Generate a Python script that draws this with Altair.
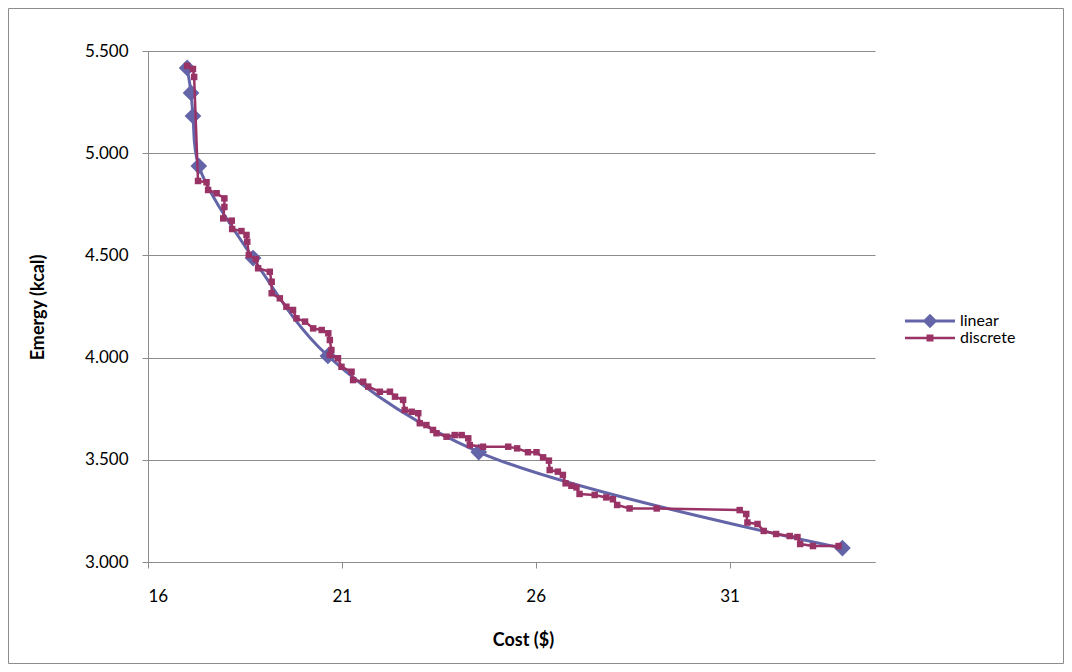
import altair as alt
import pandas as pd

# ---- data ----
lin_x = [17.01, 17.11, 17.16, 17.31, 18.71, 20.64, 24.53, 33.91]
lin_y = [5.417, 5.295, 5.182, 4.937, 4.487, 4.008, 3.538, 3.068]

disc_x = [17.01, 17.16, 17.19, 17.29, 17.51, 17.55, 17.77, 17.97, 17.97, 17.94,
          18.16, 18.17, 18.41, 18.54, 18.56, 18.60, 18.78, 18.84, 19.14, 19.19,
          19.19, 19.40, 19.57, 19.74, 19.83, 20.05, 20.26, 20.48, 20.65, 20.69,
          20.73, 20.69, 20.90, 20.99, 21.25, 21.29, 21.55, 21.68, 21.98, 22.24,
          22.37, 22.58, 22.62, 22.80, 22.97, 23.01, 23.18, 23.35, 23.44, 23.70,
          23.91, 24.09, 24.26, 24.30, 24.64, 25.29, 25.52, 25.80, 26.02, 26.19,
          26.34, 26.36, 26.57, 26.70, 26.77, 26.92, 27.05, 27.13, 27.52, 27.82,
          27.99, 28.10, 28.42, 29.12, 31.26, 31.43, 31.46, 31.72, 31.88, 32.20,
          32.55, 32.75, 32.82, 33.15, 33.81]
disc_y = [5.427, 5.412, 5.373, 4.864, 4.858, 4.820, 4.804, 4.779, 4.737, 4.681,
          4.670, 4.629, 4.619, 4.600, 4.567, 4.502, 4.482, 4.437, 4.420, 4.371,
          4.315, 4.290, 4.249, 4.233, 4.192, 4.176, 4.143, 4.135, 4.119, 4.086,
          4.037, 4.013, 3.997, 3.955, 3.931, 3.890, 3.882, 3.858, 3.833, 3.833,
          3.809, 3.793, 3.744, 3.735, 3.728, 3.679, 3.670, 3.646, 3.630, 3.613,
          3.621, 3.621, 3.605, 3.572, 3.564, 3.564, 3.556, 3.537, 3.537, 3.512,
          3.496, 3.450, 3.442, 3.426, 3.385, 3.373, 3.365, 3.333, 3.328, 3.316,
          3.307, 3.279, 3.262, 3.262, 3.254, 3.235, 3.193, 3.186, 3.152, 3.137,
          3.127, 3.122, 3.088, 3.078, 3.078]

series_names = ["linear", "discrete"]
x_ticks = [16, 21, 26, 31]
y_ticks = [3.0, 3.5, 4.0, 4.5, 5.0, 5.5]

LIN_COLOR = "#6464A8"
DISC_COLOR = "#993366"
GRID = "#8C8C8C"
FONT = "Lato"

lin_df = pd.DataFrame({"x": lin_x, "y": lin_y, "i": range(len(lin_x))})
disc_df = pd.DataFrame({"x": disc_x, "y": disc_y, "i": range(len(disc_x))})
leg_df = pd.DataFrame({"series": series_names, "x": [20, 20], "y": [4, 4]})

PW, PH = 727, 511
PAD = {"left": 140, "top": 43, "right": 189, "bottom": 102}

xscale = alt.Scale(domain=[16, 34.75], nice=False, zero=False)
yscale = alt.Scale(domain=[3.0, 5.5], nice=False, zero=False)

xaxis = alt.Axis(values=x_ticks, title="Cost ($)", grid=False, tickSize=6,
                 labelPadding=20, domainColor=GRID, tickColor=GRID,
                 labelFontSize=17, titleFontSize=18, titleFontWeight="bold",
                 titleX=375, titleY=78, titleBaseline="middle", titleAlign="center",
                 labelColor="#000000", titleColor="#000000", labelFont=FONT, titleFont=FONT)
yaxis = alt.Axis(values=y_ticks, format=".3f", title="Emergy (kcal)", grid=True,
                 gridColor=GRID, tickSize=6, labelPadding=14,
                 titleX=-110, titleY=256, titleAngle=270, titleBaseline="middle",
                 titleAlign="center",
                 domainColor=GRID, tickColor=GRID, labelFontSize=17, titleFontSize=18,
                 titleFontWeight="bold", labelColor="#000000", titleColor="#000000",
                 labelFont=FONT, titleFont=FONT)

X = alt.X("x:Q", scale=xscale, axis=xaxis)
Y = alt.Y("y:Q", scale=yscale, axis=yaxis)

border = alt.Chart(alt.Data(values=[{}])).mark_rect(
    fillOpacity=0, stroke="#8C8C8C", strokeWidth=1
).encode(
    x=alt.value(-139.5), x2=alt.value(PW + 188.5),
    y=alt.value(-42.5), y2=alt.value(PH + 101.5)
)

lin_line = alt.Chart(lin_df).mark_line(
    color=LIN_COLOR, strokeWidth=3, interpolate="catmull-rom"
).encode(x=X, y=Y, order="i:Q")

lin_pts = alt.Chart(lin_df).mark_point(
    shape="diamond", filled=True, size=280, color=LIN_COLOR, opacity=1, strokeWidth=0
).encode(x=X, y=Y)

disc_line = alt.Chart(disc_df).mark_line(
    color=DISC_COLOR, strokeWidth=2.5
).encode(x=X, y=Y, order="i:Q")

disc_pts = alt.Chart(disc_df).mark_point(
    shape="square", filled=True, size=42, color=DISC_COLOR, opacity=1, strokeWidth=0
).encode(x=X, y=Y)

lin_sym = "M-2.94,-0.18L2.94,-0.18L2.94,0.18L-2.94,0.18Z M0,-0.85L0.85,0L0,0.85L-0.85,0Z"
disc_sym = "M-2.94,-0.15L2.94,-0.15L2.94,0.15L-2.94,0.15Z M-0.41,-0.41L0.41,-0.41L0.41,0.41L-0.41,0.41Z"

legend = alt.Legend(title=None, orient="none", legendX=773.5, legendY=261.5,
                    symbolSize=289, symbolStrokeWidth=0, rowPadding=0, padding=0,
                    labelOffset=21.5, labelFontSize=16, labelFont=FONT,
                    labelColor="#000000", labelLimit=300)

leg_layer = alt.Chart(leg_df).mark_point(filled=True, opacity=1).encode(
    x=X, y=Y,
    color=alt.Color("series:N", scale=alt.Scale(domain=series_names,
                                                range=[LIN_COLOR, DISC_COLOR]),
                    legend=legend),
    shape=alt.Shape("series:N", scale=alt.Scale(domain=series_names,
                                                range=[lin_sym, disc_sym]),
                    legend=legend),
).transform_filter("false")

chart = alt.layer(border, lin_line, lin_pts, disc_line, disc_pts, leg_layer).properties(
    width=PW, height=PH, padding=PAD,
    autosize=alt.AutoSizeParams(type="none"),
    background="#FFFFFF"
).configure_view(strokeWidth=0)

chart.save("out.html", embed_options={"renderer": "svg", "actions": False})
